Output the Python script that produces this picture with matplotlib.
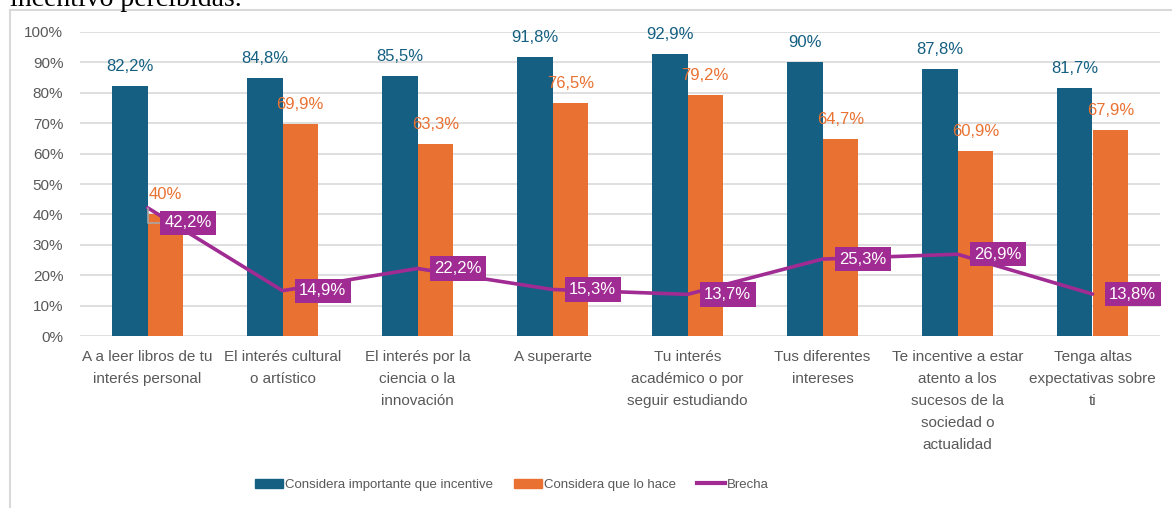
import matplotlib.pyplot as plt
import numpy as np
from matplotlib.patches import Patch, Rectangle
from matplotlib.lines import Line2D

categories = ["A a leer libros de tu\ninterés personal",
              "El interés cultural\no artístico",
              "El interés por la\nciencia o la\ninnovación",
              "A superarte",
              "Tu interés\nacadémico o por\nseguir estudiando",
              "Tus diferentes\nintereses",
              "Te incentive a estar\natento a los\nsucesos de la\nsociedad o\nactualidad",
              "Tenga altas\nexpectativas sobre\nti"]
importante = [82.2, 84.8, 85.5, 91.8, 92.9, 90.0, 87.8, 81.7]
lo_hace = [40.0, 69.9, 63.3, 76.5, 79.2, 64.7, 60.9, 67.9]
brecha = [42.2, 14.9, 22.2, 15.3, 13.7, 25.3, 26.9, 13.8]

BLUE = "#156082"
ORANGE = "#E97132"
PURPLE = "#A02B93"
GREY = "#595959"

plt.rcParams['font.family'] = ['Liberation Sans', 'DejaVu Sans']

def fmt(v):
    s = ("%.1f" % v).replace(".", ",")
    if s.endswith(",0"):
        s = s[:-2]
    return s + "%"

W, H = 1172, 508
fig = plt.figure(figsize=(W / 100, H / 100), dpi=100)
ax = fig.add_axes([80 / W, 172 / H, 1080 / W, 304 / H])

x = np.arange(len(categories))
width = 0.263
ax.bar(x - width / 2, importante, width, color=BLUE, zorder=2)
ax.bar(x + width / 2, lo_hace, width, color=ORANGE, zorder=2)
ax.plot(x, brecha, color=PURPLE, lw=2.6, zorder=3, solid_capstyle='round')

# value labels over the bars
for i in range(len(x)):
    ax.annotate(fmt(importante[i]), (x[i] - width / 2, importante[i]), xytext=(0, 14),
                textcoords='offset points', ha='center', va='center', fontsize=12, color=BLUE)
    ax.annotate(fmt(lo_hace[i]), (x[i] + width / 2, lo_hace[i]), xytext=(0, 14),
                textcoords='offset points', ha='center', va='center', fontsize=12, color=ORANGE)

# gap labels in purple boxes
for i in range(len(x)):
    box = dict(boxstyle='square,pad=0.28', fc=PURPLE, ec='none')
    if i == 0:
        ax.annotate(fmt(brecha[i]), (x[i], brecha[i]), xytext=(12, -11), textcoords='offset points',
                    ha='left', va='center', fontsize=12, color='white', bbox=box, zorder=5,
                    arrowprops=dict(arrowstyle='-', color='#A6A6A6', lw=1.2, shrinkA=0, shrinkB=0,
                                    connectionstyle='angle,angleA=0,angleB=90,rad=0'))
    else:
        ax.annotate(fmt(brecha[i]), (x[i], brecha[i]), xytext=(12, 0), textcoords='offset points',
                    ha='left', va='center', fontsize=12, color='white', bbox=box, zorder=5)

ax.set_xlim(-0.5, len(x) - 0.5)
ax.set_ylim(0, 100)
ax.set_yticks(np.arange(0, 101, 10))
ax.set_yticklabels(["%d%%" % v for v in range(0, 101, 10)])
ax.set_xticks(x)
ax.set_xticklabels(categories, linespacing=1.72)
ax.tick_params(axis='both', length=0, labelsize=11, labelcolor=GREY)
ax.tick_params(axis='y', pad=12)
ax.tick_params(axis='x', pad=10)
ax.grid(axis='y', color='#D9D9D9', lw=1.2, zorder=0)
ax.set_axisbelow(True)
for s in ax.spines.values():
    s.set_visible(False)

handles = [Patch(color=BLUE), Patch(color=ORANGE), Line2D([], [], color=PURPLE, lw=3)]
labels = ["Considera importante que incentive", "Considera que lo hace", "Brecha"]
fig.legend(handles, labels, loc='center', bbox_to_anchor=(512 / W, 1 - 485 / H), ncol=3,
           frameon=False, fontsize=9.5, labelcolor=GREY, handlelength=2.1, handleheight=0.75,
           handletextpad=0.15, columnspacing=1.6)

# chart frame and the cut-off line of text above it
fig.add_artist(Rectangle((10 / W, -0.1), 1.2, 1.1 - 10 / H, transform=fig.transFigure,
                         fill=False, edgecolor='#D9D9D9', lw=1.5))
fig.text(10 / W, 1 - 6 / H, "incentivo percibidas.", family='Liberation Serif', fontsize=20,
         va='baseline', ha='left', color='black')

fig.savefig("out.png", dpi=100)
